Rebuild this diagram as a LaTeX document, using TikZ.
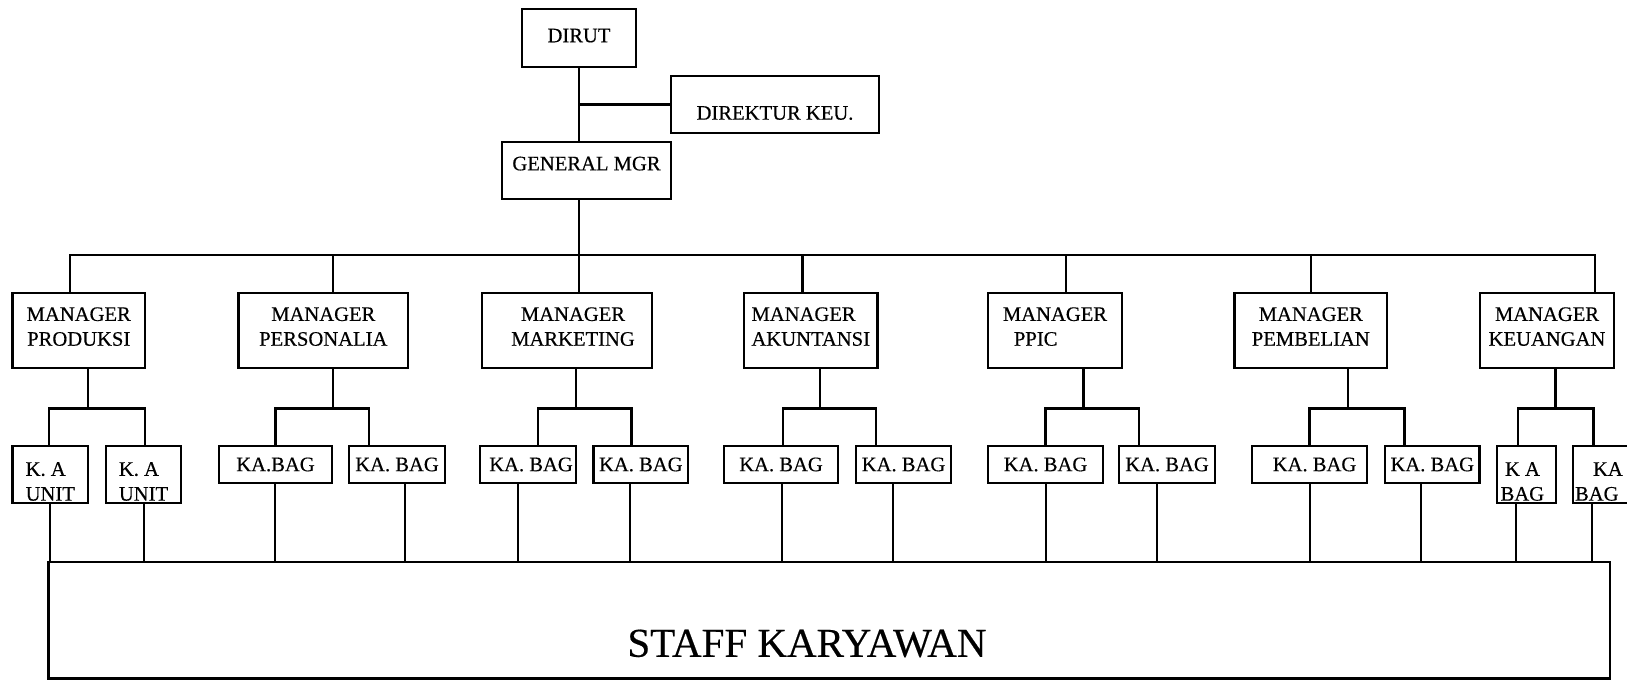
\documentclass[tikz,border=0pt]{standalone}
\usepackage{fontspec}
\setmainfont{Liberation Serif}[FakeBold=0.4]
\newcommand\boxfont{\fontsize{10.3}{12.4}\selectfont}
\newcommand\staffont{\fontsize{20.5}{24}\selectfont}
% invisible struts that move a text block inside its box
\newcommand\padtop[1]{\rule{0pt}{#1}}
\newcommand\padbot[1]{\rule[-#1]{0pt}{#1}}
\begin{document}
\begin{tikzpicture}[x=0.5pt, y=-0.5pt,
  box/.style={draw, line width=1.3pt, inner sep=0pt, font=\boxfont, align=center},
  mgr/.style={box, minimum height=37.5pt},
  kab/.style={box, minimum height=18.5pt},
  kat/.style={box, minimum height=28.5pt, align=left},
  link/.style={line width=1.3pt},
  drop/.style={line width=1.0pt}]
\useasboundingbox (0,0) rectangle (1627,680);

% top management
\node[box, minimum width=57pt, minimum height=29pt, text depth=2.5pt] (dirut) at (579,38) {DIRUT};
\node[box, minimum width=104pt, minimum height=28.5pt, text height=15.3pt] (dkeu) at (775,104.5) {DIREKTUR KEU.};
\node[box, minimum width=84.5pt, minimum height=28.5pt, text depth=7pt] (gm) at (586.5,170.5) {GENERAL MGR};

% managers
\node[mgr, minimum width=66.25pt] (mprod) at (78.75,330.5) {MANAGER\\PRODUKSI\padbot{4pt}};
\node[mgr, minimum width=84.7pt] (mpers) at (323.3,330.5) {MANAGER\\PERSONALIA\padbot{4pt}};
\node[mgr, minimum width=85pt] (mmkt) at (567,330.5) {\hspace*{6pt}MANAGER\\\hspace*{6pt}MARKETING\padbot{4pt}};
\node[mgr, minimum width=66.75pt, align=left] (makt) at (810.75,330.5) {MANAGER\\AKUNTANSI\padbot{4pt}};
\node[mgr, minimum width=67pt, align=left] (mppic) at (1055,330.5) {MANAGER\\\hspace*{5.5pt}PPIC\padbot{4pt}};
\node[mgr, minimum width=76.2pt] (mpemb) at (1310.8,330.5) {MANAGER\\PEMBELIAN\padbot{4pt}};
\node[mgr, minimum width=67pt] (mkeu) at (1547,330.5) {MANAGER\\KEUANGAN\padbot{4pt}};

% heads of section
\node[kat, minimum width=37.75pt] (kprod1) at (50.25,474.5) {\padtop{13.8pt}K. A\\UNIT};
\node[kat, minimum width=37.5pt] (kprod2) at (143.5,474.5) {\padtop{13.8pt}K. A\\UNIT};
\node[kab, minimum width=56.5pt] (kpers1) at (275.5,464.5) {KA.BAG};
\node[kab, minimum width=48pt] (kpers2) at (397,464.5) {KA. BAG};
\node[kab, minimum width=48pt] (kmkt1) at (528,464.5) {\hspace*{3pt}KA. BAG};
\node[kab, minimum width=47.2pt] (kmkt2) at (640.8,464.5) {KA. BAG};
\node[kab, minimum width=57pt] (kakt1) at (781,464.5) {KA. BAG};
\node[kab, minimum width=47.5pt] (kakt2) at (903.5,464.5) {KA. BAG};
\node[kab, minimum width=57.5pt] (kppic1) at (1045.5,464.5) {KA. BAG};
\node[kab, minimum width=48pt] (kppic2) at (1167,464.5) {KA. BAG};
\node[kab, minimum width=57.5pt] (kpemb1) at (1309.5,464.5) {\hspace*{5pt}KA. BAG};
\node[kab, minimum width=47.25pt] (kpemb2) at (1432.25,464.5) {KA. BAG};
\node[kat, minimum width=29.5pt] (kkeu1) at (1526.5,474.5)
  {\padtop{13.8pt}\makebox[29.5pt][l]{\hspace{4pt}K A}\\\makebox[29.5pt][l]{\hspace{1.8pt}BAG}};
\node[kat, minimum width=45pt] (kkeu2) at (1618,474.5)
  {\padtop{13.8pt}\makebox[45pt][l]{\hspace{10pt}KA}\\\makebox[45pt][l]{\hspace{1pt}BAG}};

% staff
\node[draw, line width=1.2pt, inner sep=0pt, minimum width=780.7pt, minimum height=58.25pt] (staff) at (829.3,620.25) {};
\node[font=\staffont, inner sep=0pt] (stafftext) at (807,643.5) {STAFF KARYAWAN};

% spine and main bus
\coordinate (bus) at (579,255);
\draw[link] (dirut.south) -- (gm.north -| dirut.south);
\draw[link] (dkeu.west) -- (dkeu.west -| dirut.south);
\draw[link] (gm.south -| dirut.south) -- (mmkt.north -| dirut.south);
\draw[link] ([xshift=-4.375pt]mprod.north) |- (bus) -| ([xshift=24pt]mkeu.north);
\draw[link] ([xshift=4.85pt]mpers.north) -- ++(0,-38);
\draw[link] ([xshift=-4.125pt]makt.north) -- ++(0,-38);
\draw[link] ([xshift=5.5pt]mppic.north) -- ++(0,-38);
\draw[link] (mpemb.north) -- ++(0,-38);

% manager to heads of section
\draw[link] ([xshift=4.625pt]mprod.south) -- ++(0,39) coordinate (jprod);
\draw[link] ([xshift=-0.625pt]kprod1.north) |- (jprod) -| ([xshift=0.75pt]kprod2.north);
\draw[link] ([xshift=4.85pt]mpers.south) -- ++(0,39) coordinate (jpers);
\draw[link] (kpers1.north) |- (jpers) -| ([xshift=-14pt]kpers2.north);
\draw[link] ([xshift=4.5pt]mmkt.south) -- ++(0,39) coordinate (jmkt);
\draw[link] ([xshift=5pt]kmkt1.north) |- (jmkt) -| ([xshift=-4.65pt]kmkt2.north);
\draw[link] ([xshift=4.625pt]makt.south) -- ++(0,39) coordinate (jakt);
\draw[link] ([xshift=1pt]kakt1.north) |- (jakt) -| ([xshift=-13.75pt]kakt2.north);
\draw[link] ([xshift=14.25pt]mppic.south) -- ++(0,39) coordinate (jppic);
\draw[link] (kppic1.north) |- (jppic) -| ([xshift=-14pt]kppic2.north);
\draw[link] ([xshift=18.6pt]mpemb.south) -- ++(0,39) coordinate (jpemb);
\draw[link] (kpemb1.north) |- (jpemb) -| ([xshift=-13.9pt]kpemb2.north);
\draw[link] ([xshift=4.3pt]mkeu.south) -- ++(0,39) coordinate (jkeu);
\draw[link] ([xshift=-4.25pt]kkeu1.north) |- (jkeu) -| ([xshift=-12.2pt]kkeu2.north);

% heads of section down to staff
\draw[drop] (kprod1.south) -- ++(0,59);
\draw[drop] (kprod2.south) -- ++(0,59);
\draw[drop] ([xshift=-0.45pt]kpers1.south) -- ++(0,79);
\draw[drop] ([xshift=4pt]kpers2.south) -- ++(0,79);
\draw[drop] ([xshift=-5pt]kmkt1.south) -- ++(0,79);
\draw[drop] ([xshift=-5.4pt]kmkt2.south) -- ++(0,79);
\draw[drop] ([xshift=0.5pt]kakt1.south) -- ++(0,79);
\draw[drop] ([xshift=-5.25pt]kakt2.south) -- ++(0,79);
\draw[drop] (kppic1.south) -- ++(0,79);
\draw[drop] ([xshift=-5.25pt]kppic2.south) -- ++(0,79);
\draw[drop] (kpemb1.south) -- ++(0,79);
\draw[drop] ([xshift=-5.6pt]kpemb2.south) -- ++(0,79);
\draw[drop] ([xshift=-5.25pt]kkeu1.south) -- ++(0,59);
\draw[drop] ([xshift=-13.2pt]kkeu2.south) -- ++(0,59);
\end{tikzpicture}
\end{document}
